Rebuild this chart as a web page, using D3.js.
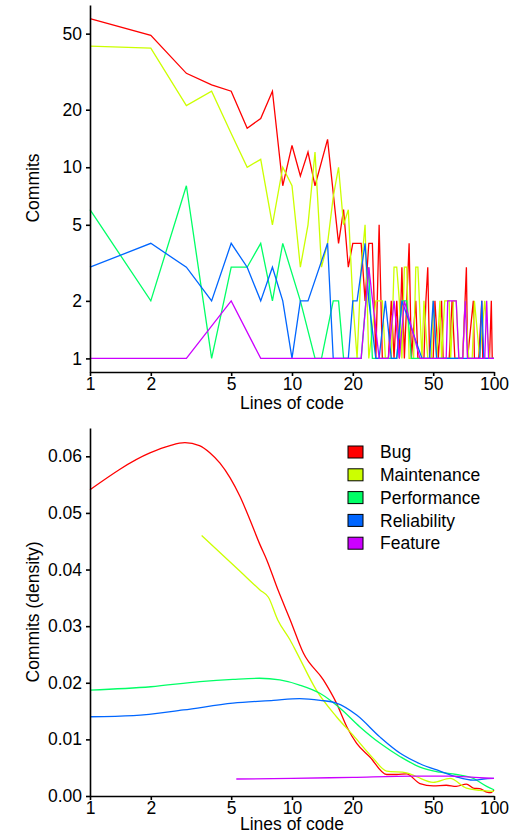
<!DOCTYPE html>
<html lang="en">
<head>
    <meta charset="UTF-8">
    <script src="https://cdn.jsdelivr.net/npm/d3@7.8.5/dist/d3.min.js"></script>
    <title>Commits by lines of code</title>
    <style>
        body { margin: 0; background: #fff; }
        svg { display: block; font-family: "Liberation Sans", Arial, sans-serif; }
        .axis path, .axis line { stroke: #000; stroke-width: 1.6; }
        .axis text { font-size: 17.5px; fill: #000; }
        .lbl { font-size: 17.5px; fill: #000; }
    </style>
</head>
<body onload="main()">
    <svg width="513" height="834"></svg>
    <script type="text/javascript">
        // categories and colours
        var categories = ["Bug", "Maintenance", "Performance", "Reliability", "Feature"];
        var colors = ["#FF0000", "#CCFF00", "#00FF66", "#0066FF", "#CC00FF"];

        // tick labels
        var xTicks = [1, 2, 5, 10, 20, 50, 100];
        var yTicksTop = [1, 2, 5, 10, 20, 50];
        var yTicksBottom = [0, 0.01, 0.02, 0.03, 0.04, 0.05, 0.06];

        // top panel: commit counts per lines of code
        var bugLoc = [1,2,3,4,5,6,7,8,9,10,11,12,13,15,17,18,19,20,21,22,23,24,25,26,27,28,30,31,32,33,34,35,36,37,38,39,41,42,45,46,47,48,50,51,53,55,56,60,62,64,68,70,73,74,79,80,84,87,88,95,97,98,100];
        var bugCommits = [60,49,31,27,25,16,18,25,8,13,9,12,8,14,4,6,3,4,4,4,2,4,4,1,5,1,1,2,1,2,1,3,1,2,4,1,2,1,1,2,3,1,1,2,1,2,1,1,2,1,1,1,3,1,2,1,1,2,1,1,2,1,1];
        var maintLoc = [1,2,3,4,5,6,7,8,9,10,11,12,13,14,15,16,17,18,19,20,21,22,23,24,26,27,28,29,31,32,33,34,35,36,37,38,40,41,42,44,45,47,49,50,52,54,55,57,58,60,61,63,65,67,70,72,75,78,80,85,90,95,100];
        var maintCommits = [43,42,21,25,15,10,11,5,10,8,3,5,12,3,4,7,10,5,6,2,1,3,5,1,2,2,2,1,1,3,3,2,1,3,3,1,1,3,3,1,2,1,1,2,1,2,1,2,2,2,1,2,2,1,1,2,1,1,2,1,2,1,1];
        var perfLoc = [1,2,3,4,5,6,7,8,9,11,13,14,16,17,18,20,22,24,25,27,30,33,35,37,39,42,45,50,55,60,70];
        var perfCommits = [6,2,8,1,3,3,4,2,4,2,1,1,2,2,1,1,1,3,1,1,1,1,2,2,1,1,1,1,1,1,1];
        var relLoc = [1,2,3,4,5,6,7,8,9,10,11,12,15,16,19,20,21,23,24,26,27,29,31,33,35,44,48,50,52,60,80,85,87,89,100];
        var relCommits = [3,4,3,2,4,3,2,3,2,1,2,2,4,1,1,2,2,4,2,1,1,2,1,1,2,1,1,2,1,1,1,1,2,1,1];
        var featLoc = [1,3,5,7,10,15,20,22,24,27,30,32,34,36,43,50,58,59,63,65,67,70,72,74,90,92,94,100];
        var featCommits = [1,1,2,1,1,1,1,1,3,1,1,2,1,2,1,1,1,2,2,2,1,1,2,1,1,2,1,1];

        // bottom panel: density curves
        var bugDensLoc = [1,1.98,2.49,2.95,3.48,3.93,4.4,4.94,5.53,6.19,6.94,7.5,8.5,9.8,11.4,14.3,16.6,18.7,20.9,24.3,29.4,33,36.9,43,50,58,65,73,79,85,92,97,100];
        var bugDens = [0.0541,0.0606,0.0619,0.0624,0.0619,0.0606,0.0588,0.0562,0.0529,0.0488,0.0444,0.0417,0.0365,0.0311,0.0252,0.0205,0.0164,0.0122,0.0093,0.0069,0.0038,0.0038,0.0039,0.0022,0.0018,0.0019,0.0017,0.0021,0.0014,0.0013,0.0007,0.0006,0.0011];
        var maintDensLoc = [3.57,5.53,6.94,7.64,8.5,9.77,10.6,13.2,16.6,20.1,25.3,29.4,36.9,41.4,50,60.6,73,85,100];
        var maintDens = [0.0460,0.0397,0.0364,0.0351,0.0311,0.0276,0.0252,0.0187,0.0140,0.0107,0.0066,0.0044,0.0041,0.0034,0.0024,0.0031,0.0014,0.0010,0.0008];
        var perfDensLoc = [1,2,3.5,5.1,6.9,8.7,10.9,13.8,17.3,21.7,27.3,34.5,43,54,65,79,92,100];
        var perfDens = [0.0187,0.0193,0.0202,0.0206,0.0208,0.0205,0.0196,0.0181,0.0155,0.0122,0.0093,0.0069,0.0051,0.0042,0.0038,0.0031,0.0017,0.0011];
        var relDensLoc = [1,1.64,2.9,5.1,8.1,10.9,13.8,16.6,20.9,27.3,34.5,43,54,65,79,88.6,100];
        var relDens = [0.0140,0.0142,0.0152,0.0164,0.0169,0.0172,0.0169,0.0164,0.0143,0.0104,0.0075,0.0057,0.0044,0.0034,0.0028,0.0030,0.0031];
        var featDensLoc = [5.3,10,20,40,60,80,100];
        var featDens = [0.0030,0.0031,0.0033,0.0035,0.0035,0.0033,0.0031];

        function zip(xs, ys) {
            return xs.map(function(x, i) { return [x, ys[i]]; });
        }

        function main() {
            var svg = d3.select("svg");

            var countSeries = [zip(bugLoc, bugCommits), zip(maintLoc, maintCommits), zip(perfLoc, perfCommits),
                               zip(relLoc, relCommits), zip(featLoc, featCommits)];
            var densSeries = [zip(bugDensLoc, bugDens), zip(maintDensLoc, maintDens), zip(perfDensLoc, perfDens),
                              zip(relDensLoc, relDens), zip(featDensLoc, featDens)];

            // ---- top panel ----
            var x1 = d3.scaleLog().domain([1, 100]).range([90, 494]);
            var y1 = d3.scaleLog().domain([0.849, 70.6]).range([372, 5]);

            var top = svg.append("g");
            var line1 = d3.line().x(function(d){ return x1(d[0]); }).y(function(d){ return y1(d[1]); });
            top.selectAll(".cnt")
                .data(countSeries)
                .enter().append("path")
                .attr("class", "cnt")
                .attr("d", line1)
                .attr("fill", "none")
                .attr("stroke", function(d, i){ return colors[i]; })
                .attr("stroke-width", 1.3);

            top.append("g").attr("class", "axis").attr("transform", "translate(0,372)")
                .call(d3.axisBottom(x1).tickValues(xTicks).tickFormat(d3.format("d")).tickSize(4).tickSizeOuter(0).tickPadding(2));
            top.append("g").attr("class", "axis").attr("transform", "translate(90,0)")
                .call(d3.axisLeft(y1).tickValues(yTicksTop).tickFormat(d3.format("d")).tickSize(4).tickSizeOuter(0).tickPadding(4));

            top.append("text").attr("class", "lbl").attr("x", 292).attr("y", 409)
                .attr("text-anchor", "middle").text("Lines of code");
            top.append("text").attr("class", "lbl")
                .attr("transform", "translate(39,188) rotate(-90)")
                .attr("text-anchor", "middle").text("Commits");

            // ---- bottom panel ----
            var x2 = d3.scaleLog().domain([1, 100]).range([90, 494]);
            var y2 = d3.scaleLinear().domain([0, 0.065]).range([796, 428]);

            var bot = svg.append("g");
            var line2 = d3.line().curve(d3.curveMonotoneX)
                .x(function(d){ return x2(d[0]); }).y(function(d){ return y2(d[1]); });
            bot.selectAll(".dens")
                .data(densSeries)
                .enter().append("path")
                .attr("class", "dens")
                .attr("d", line2)
                .attr("fill", "none")
                .attr("stroke", function(d, i){ return colors[i]; })
                .attr("stroke-width", 1.3);

            bot.append("g").attr("class", "axis").attr("transform", "translate(0,796)")
                .call(d3.axisBottom(x2).tickValues(xTicks).tickFormat(d3.format("d")).tickSize(4).tickSizeOuter(0).tickPadding(2));
            bot.append("g").attr("class", "axis").attr("transform", "translate(90,0)")
                .call(d3.axisLeft(y2).tickValues(yTicksBottom).tickFormat(d3.format(".2f")).tickSize(4).tickSizeOuter(0).tickPadding(4));

            bot.append("text").attr("class", "lbl").attr("x", 292).attr("y", 830)
                .attr("text-anchor", "middle").text("Lines of code");
            bot.append("text").attr("class", "lbl")
                .attr("transform", "translate(39,612) rotate(-90)")
                .attr("text-anchor", "middle").text("Commits (density)");

            // legend
            var legend = bot.selectAll(".leg")
                .data(categories)
                .enter().append("g")
                .attr("class", "leg")
                .attr("transform", function(d, i){ return "translate(348," + (452 + i * 22.8) + ")"; });
            legend.append("rect")
                .attr("x", 0).attr("y", -6).attr("width", 15).attr("height", 12)
                .attr("fill", function(d, i){ return colors[i]; })
                .attr("stroke", "#000").attr("stroke-width", 1);
            legend.append("text").attr("class", "lbl")
                .attr("x", 32).attr("y", 0).attr("dy", "0.35em")
                .text(function(d){ return d; });
        }
    </script>
</body>
</html>
